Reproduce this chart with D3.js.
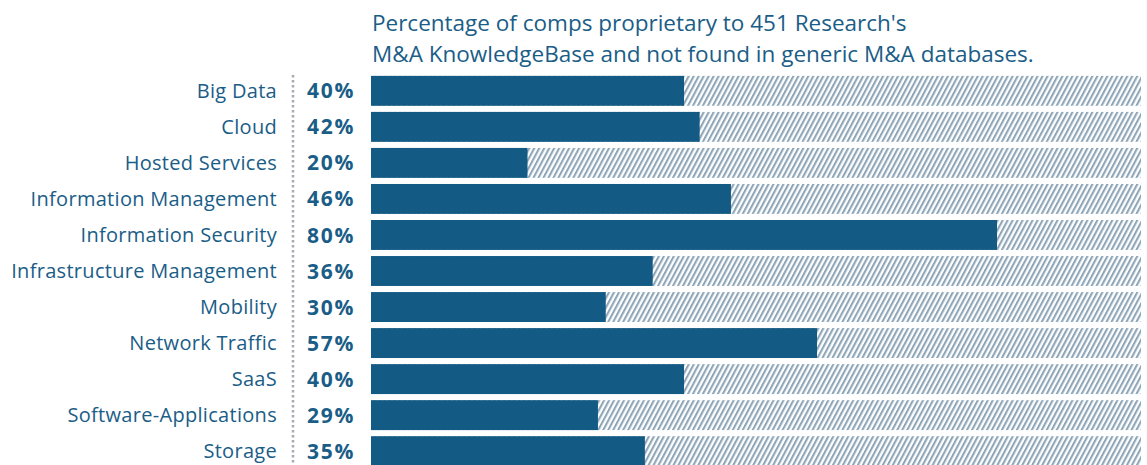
<!DOCTYPE html>
<html>
<head>
<meta charset="utf-8">
<script src="https://cdn.jsdelivr.net/npm/d3@7"></script>
<style>
  body { margin: 0; background: #fff; }
  svg { display: block; font-family: "Open Sans", sans-serif; }
</style>
</head>
<body>
<div id="chart"></div>
<script>
// data
let categories = ["Big Data", "Cloud", "Hosted Services", "Information Management",
    "Information Security", "Infrastructure Management", "Mobility", "Network Traffic",
    "SaaS", "Software-Applications", "Storage"];
let values = [40, 42, 20, 46, 80, 36, 30, 57, 40, 29, 35];
let titleLines = ["Percentage of comps proprietary to 451 Research's",
    "M&A KnowledgeBase and not found in generic M&A databases."];

let width = 1147, height = 465;
let textColor = "#1a5d87", barColor = "#135a84";

let svg = d3.select("#chart").append("svg")
    .attr("width", width)
    .attr("height", height);

// hatch pattern for the remainder
let defs = svg.append("defs");
let pat = defs.append("pattern")
    .attr("id", "hatch")
    .attr("patternUnits", "userSpaceOnUse")
    .attr("width", 4.4)
    .attr("height", 10)
    .attr("patternTransform", "rotate(28)");
pat.append("rect")
    .attr("x", 0).attr("y", 0)
    .attr("width", 2.1).attr("height", 10)
    .attr("fill", "#8ea6b8");

// scales
let x = d3.scaleLinear()
    .domain([0, 100])
    .range([371, 1153.5]);

let y = d3.scaleBand()
    .domain(categories)
    .range([73, 469])
    .paddingInner(0.17)
    .paddingOuter(0.08);

let rows = svg.selectAll(".row")
    .data(categories)
    .enter()
    .append("g")
    .attr("class", "row")
    .attr("transform", d => "translate(0," + y(d) + ")");

// hatched background
rows.append("rect")
    .attr("x", x(0))
    .attr("y", 0)
    .attr("width", 1141 - x(0))
    .attr("height", y.bandwidth())
    .attr("fill", "url(#hatch)");

// bars
rows.append("rect")
    .attr("x", x(0))
    .attr("y", 0)
    .attr("width", (d, i) => x(values[i]) - x(0))
    .attr("height", y.bandwidth())
    .attr("fill", barColor);

// category labels
rows.append("text")
    .attr("x", 277)
    .attr("y", y.bandwidth() / 2)
    .attr("dy", "0.35em")
    .attr("text-anchor", "end")
    .attr("font-size", "20px")
    .attr("font-weight", 500)
    .attr("letter-spacing", "0.3px")
    .attr("fill", textColor)
    .text(d => d);

// percent labels
rows.append("text")
    .attr("x", 307)
    .attr("y", y.bandwidth() / 2)
    .attr("dy", "0.36em")
    .attr("font-size", "21px")
    .attr("font-weight", "bold")
    .attr("letter-spacing", "1.8px")
    .attr("fill", textColor)
    .text((d, i) => values[i] + "%");

// dotted divider
svg.append("line")
    .attr("x1", 293).attr("x2", 293)
    .attr("y1", 75).attr("y2", height)
    .attr("stroke", "#a6acb2")
    .attr("stroke-width", 2.5)
    .attr("stroke-dasharray", "2.5,2.5");

// title
svg.append("g").selectAll("text")
    .data(titleLines)
    .enter()
    .append("text")
    .attr("x", 372)
    .attr("y", (d, i) => 31 + i * 31)
    .attr("font-size", "22.5px")
    .attr("fill", textColor)
    .text(d => d);
</script>
</body>
</html>
